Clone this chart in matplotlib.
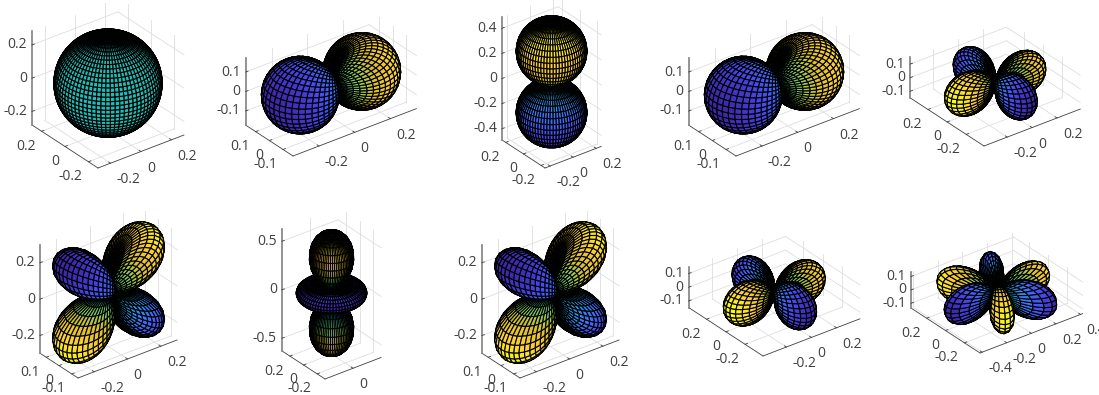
import math
import numpy as np
import matplotlib
matplotlib.use('Agg')
import matplotlib.pyplot as plt
from matplotlib.colors import LinearSegmentedColormap, Normalize
from mpl_toolkits.mplot3d import proj3d

plt.rcParams['font.family'] = ['Open Sans', 'DejaVu Sans']

# degree and order of each panel
degrees = [0, 1, 1, 1, 2, 2, 2, 2, 2, 3]
orders = [0, 1, 0, 1, 2, 1, 0, 1, 2, 3]

# ticks
xticks = [[-0.2, 0, 0.2], [-0.2, 0, 0.2], [-0.2, 0, 0.2], [-0.2, 0, 0.2], [-0.2, 0, 0.2],
          [-0.2, 0, 0.2], [0], [-0.2, 0, 0.2], [-0.2, 0, 0.2], [-0.4, -0.2, 0, 0.2, 0.4]]
yticks = [[-0.2, 0, 0.2], [-0.1, 0, 0.1], [-0.2, 0, 0.2], [-0.1, 0, 0.1], [-0.2, 0, 0.2],
          [-0.1, 0, 0.1], [-0.2, 0, 0.2], [-0.1, 0, 0.1], [-0.2, 0, 0.2], [-0.2, 0, 0.2]]
zticks = [[-0.2, 0, 0.2], [-0.1, 0, 0.1], [-0.4, -0.2, 0, 0.2, 0.4], [-0.1, 0, 0.1], [-0.1, 0, 0.1],
          [-0.2, 0, 0.2], [-0.5, 0, 0.5], [-0.2, 0, 0.2], [-0.1, 0, 0.1], [-0.1, 0, 0.1]]

# layout of each panel: front corner of the box in pixels, pixels per unit
front_x = [98, 293, 545, 736, 984, 78, 325, 520, 763, 980]
front_y = [168, 156, 168, 156, 146, 378, 379, 378, 356, 353]
px_unit = [192, 225, 145, 225, 157, 210, 112, 210, 158, 155]

FIG_W, FIG_H = 1099, 395
N_LAT, N_LON = 36, 72
ELEV, AZ = 30, 37.5

parula = LinearSegmentedColormap.from_list('parula', [
    (0.2422, 0.1504, 0.6603), (0.2803, 0.2782, 0.9221), (0.2440, 0.4358, 0.9988),
    (0.1540, 0.5902, 0.9218), (0.0297, 0.7082, 0.8163), (0.1938, 0.7758, 0.6251),
    (0.5044, 0.7993, 0.3480), (0.8634, 0.7406, 0.1596), (0.9892, 0.8136, 0.1885),
    (0.9769, 0.9839, 0.0805)])


def legendre(l, m, c):
    # associated Legendre, no Condon-Shortley phase
    s = np.sqrt(1 - c ** 2)
    pmm = np.ones_like(c)
    for i in range(1, m + 1):
        pmm = pmm * (2 * i - 1) * s
    if l == m:
        return pmm
    pnext = c * (2 * m + 1) * pmm
    for n in range(m + 2, l + 1):
        pmm, pnext = pnext, ((2 * n - 1) * c * pnext - (n + m - 1) * pmm) / (n - m)
    return pnext


def harmonic(l, m, theta, phi):
    norm = math.sqrt((2 * l + 1) / (4 * math.pi) * math.factorial(l - m) / math.factorial(l + m))
    return norm * legendre(l, m, np.cos(theta)) * np.cos(m * phi)


def label(ax, M, x, y, z, dx, dy, text, ha):
    xp, yp, _ = proj3d.proj_transform(x, y, z, M)
    ax.annotate(text, (xp, yp), xytext=(dx * 0.72, -dy * 0.72), textcoords='offset points',
                ha=ha, va='center', fontsize=10, color='#404040', annotation_clip=False)


def tick_text(v):
    return '0' if v == 0 else f'{v:g}'


fig = plt.figure(figsize=(FIG_W / 100, FIG_H / 100), dpi=100)

theta, phi = np.meshgrid(np.linspace(0, np.pi, N_LAT + 1), np.linspace(0, 2 * np.pi, N_LON + 1), indexing='ij')

for i in range(len(degrees)):
    val = harmonic(degrees[i], orders[i], theta, phi)
    r = np.abs(val)
    X = r * np.sin(theta) * np.cos(phi)
    Y = r * np.sin(theta) * np.sin(phi)
    Z = r * np.cos(theta)
    xlim = (X.min(), X.max())
    ylim = (Y.min(), Y.max())
    zlim = (Z.min(), Z.max())
    ranges = np.array([xlim[1] - xlim[0], ylim[1] - ylim[0], zlim[1] - zlim[0]])

    # where the middle of the box lands, in pixels
    k = px_unit[i]
    ca, sa = math.cos(math.radians(AZ)), math.sin(math.radians(AZ))
    se, ce = math.sin(math.radians(ELEV)), math.cos(math.radians(ELEV))
    cx = front_x[i] + k * (ranges[0] * ca - ranges[1] * sa) / 2
    cy = front_y[i] - k * (ranges[0] * sa * se + ranges[1] * ca * se + ranges[2] * ce) / 2

    H = 300.0
    rect = [(cx - 0.5135 * H) / FIG_W, (FIG_H - cy - 0.5135 * H) / FIG_H, H / FIG_W, H / FIG_H]
    ax = fig.add_axes(rect, projection='3d', proj_type='ortho', computed_zorder=False)
    ax.set_axis_off()
    ax.patch.set_visible(False)
    ax.view_init(elev=ELEV, azim=-90 - AZ)
    ax.set_xlim(*xlim, view_margin=0)
    ax.set_ylim(*ylim, view_margin=0)
    ax.set_zlim(*zlim, view_margin=0)
    ax.set_box_aspect(ranges, zoom=np.linalg.norm(ranges) * k * 1.85 / (H * 1.9057))
    M = ax.get_proj()

    # grid on floor and the two back walls
    grid = dict(color='#dedede', lw=0.6, zorder=1)
    for t in xticks[i]:
        ax.plot([t, t], ylim, [zlim[0], zlim[0]], **grid)
        ax.plot([t, t], [ylim[1], ylim[1]], zlim, **grid)
    for t in yticks[i]:
        ax.plot(xlim, [t, t], [zlim[0], zlim[0]], **grid)
        ax.plot([xlim[1], xlim[1]], [t, t], zlim, **grid)
    for t in zticks[i]:
        ax.plot(xlim, [ylim[1], ylim[1]], [t, t], **grid)
        ax.plot([xlim[1], xlim[1]], ylim, [t, t], **grid)

    # axis lines and tick marks
    line = dict(color='#404040', lw=0.6, zorder=1.5)
    ax.plot(xlim, [ylim[0], ylim[0]], [zlim[0], zlim[0]], **line)
    ax.plot([xlim[0], xlim[0]], ylim, [zlim[0], zlim[0]], **line)
    ax.plot([xlim[0], xlim[0]], [ylim[1], ylim[1]], zlim, color='#808080', lw=1.2, zorder=1.5)
    tl = 3.0 / k
    for t in xticks[i]:
        ax.plot([t, t], [ylim[0], ylim[0] + tl], [zlim[0], zlim[0]], **line)
        label(ax, M, t, ylim[0], zlim[0], 6, 16.5, tick_text(t), 'left')
    for t in yticks[i]:
        ax.plot([xlim[0], xlim[0] + tl], [t, t], [zlim[0], zlim[0]], **line)
        label(ax, M, xlim[0], t, zlim[0], -6, 15, tick_text(t), 'right')
    for t in zticks[i]:
        ax.plot([xlim[0], xlim[0] + tl], [ylim[1], ylim[1]], [t, t], **line)
        label(ax, M, xlim[0], ylim[1], t, -5, 0, tick_text(t), 'right')

    lo, hi = val.min(), val.max()
    if hi - lo < 1e-9:
        lo, hi = hi - 1, hi + 1  # constant panel sits mid colormap
    colors = parula(Normalize(lo, hi)(val))
    ax.plot_surface(X, Y, Z, facecolors=colors, edgecolor='black', linewidth=0.8,
                    rstride=1, cstride=1, shade=False, zorder=2)

fig.savefig('out.png', dpi=100)
